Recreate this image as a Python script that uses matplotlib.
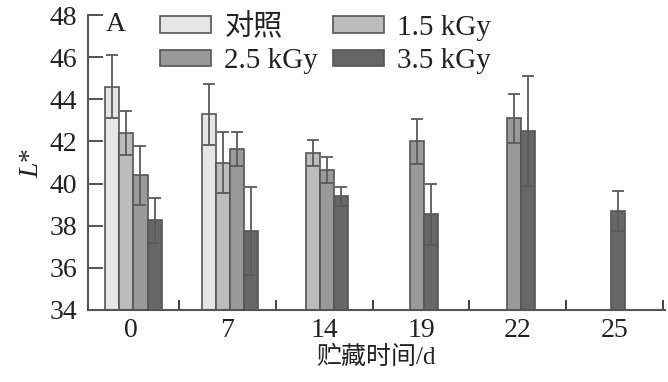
import numpy as np
import matplotlib
matplotlib.use('Agg')
import matplotlib.pyplot as plt
from matplotlib.ticker import FixedLocator

plt.rcParams['font.family'] = ['Liberation Serif', 'Noto Sans CJK SC']
plt.rcParams['mathtext.fontset'] = 'custom'
plt.rcParams['mathtext.it'] = 'Liberation Serif:italic'
plt.rcParams['mathtext.rm'] = 'Liberation Serif'

# 数据（缺失值用 nan）
days = ['0', '7', '14', '19', '22', '25']
series = ['对照', '1.5 kGy', '2.5 kGy', '3.5 kGy']
ctrl = [44.6, 43.3, np.nan, np.nan, np.nan, np.nan]
ctrl_err = [1.5, 1.45, np.nan, np.nan, np.nan, np.nan]
g15 = [42.4, 41.0, 41.45, np.nan, np.nan, np.nan]
g15_err = [1.05, 1.43, 0.6, np.nan, np.nan, np.nan]
g25 = [40.4, 41.65, 40.65, 42.0, 43.1, np.nan]
g25_err = [1.4, 0.8, 0.6, 1.05, 1.15, np.nan]
g35 = [38.25, 37.75, 39.4, 38.55, 42.5, 38.7]
g35_err = [1.05, 2.1, 0.45, 1.45, 2.6, 0.95]

colors = ['#e6e6e6', '#bcbcbc', '#9a9a9a', '#676767']
edge = '#555555'

vals = np.array([ctrl, g15, g25, g35], dtype=float)
errs = np.array([ctrl_err, g15_err, g25_err, g35_err], dtype=float)

fig = plt.figure(figsize=(6.68, 3.82), dpi=100)
ax = fig.add_axes([0.1317, 0.1885, 0.8638, 0.772])

w = 0.145
handles = [None] * 4
for j in range(len(days)):
    present = [i for i in range(4) if not np.isnan(vals[i, j])]
    n = len(present)
    for k, i in enumerate(present):
        x = j + 0.03 + (k - (n - 1) / 2) * w
        b = ax.bar(x, vals[i, j] - 34, bottom=34, width=w, color=colors[i],
                   edgecolor=edge, linewidth=1.2, label=series[i])
        handles[i] = b
        ax.errorbar(x, vals[i, j], yerr=errs[i, j], color='#5a5a5a',
                    elinewidth=1.3, capsize=4.6, capthick=1.3, fmt='none')

ax.set_ylim(34, 48)
ax.set_xlim(-0.44, 5.52)
ax.set_yticks(np.arange(34, 49, 2))
ax.set_xticks(range(len(days)))
ax.set_xticklabels(days)
ax.xaxis.set_minor_locator(FixedLocator(np.arange(0.5, 6, 1)))
ax.tick_params(axis='x', which='major', length=0, labelsize=20, pad=6,
               colors='#222222')
ax.tick_params(axis='x', which='minor', direction='in', length=7,
               width=1.3, color='#333333')
ax.tick_params(axis='y', direction='in', length=11, width=1.3,
               labelsize=20, color='#444444', labelcolor='#222222', pad=8)
for s in ['top', 'right']:
    ax.spines[s].set_visible(False)
for s in ['left', 'bottom']:
    ax.spines[s].set_color('#555555')
    ax.spines[s].set_linewidth(1.5)

ax.set_ylabel('$L$*', fontsize=20, color='#222222', labelpad=4)
ax.set_xlabel('贮藏时间/d', fontsize=18, color='#222222', labelpad=2)
ax.text(0.03, 1.012, 'A', transform=ax.transAxes, fontsize=20,
        va='top', ha='left', color='#222222')

order = [0, 2, 1, 3]
leg = ax.legend([handles[i] for i in order], [series[i] for i in order],
                ncol=2, loc='upper left', bbox_to_anchor=(0.105, 1.045),
                frameon=False, fontsize=21, handlelength=1.75,
                handleheight=0.5, handletextpad=0.45, columnspacing=0.5,
                labelspacing=0.25, borderaxespad=0)
for t in leg.get_texts():
    t.set_color('#222222')

fig.savefig('out.png', dpi=100)
